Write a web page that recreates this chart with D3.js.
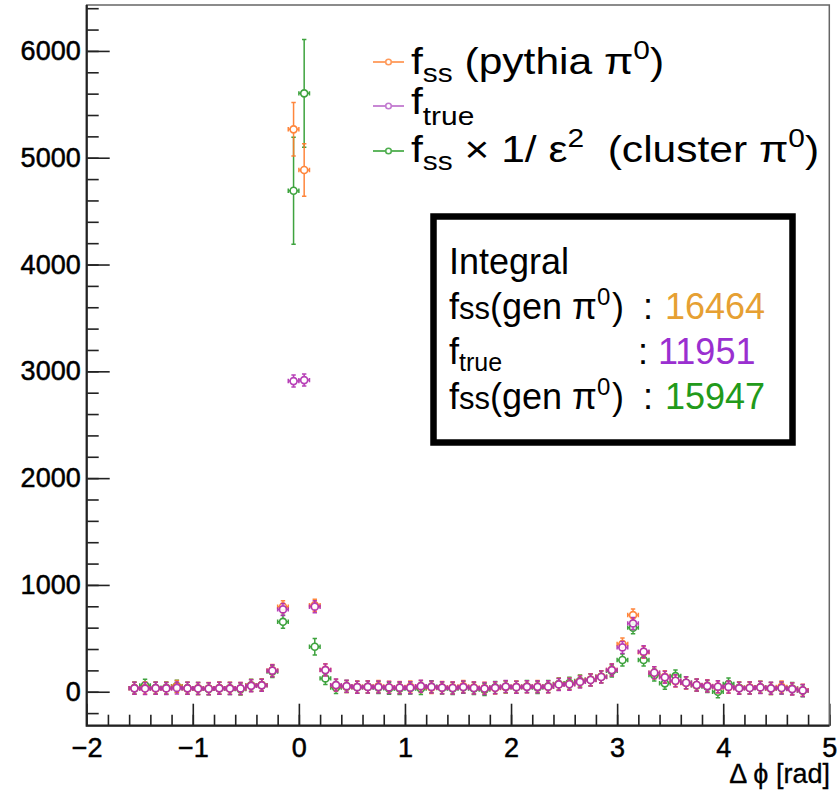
<!DOCTYPE html>
<html>
<head>
<meta charset="utf-8">
<script src="https://cdn.jsdelivr.net/npm/d3@7"></script>
<style>
  body { margin: 0; background: #fff; }
  svg { display: block; font-family: "Liberation Sans", Arial, Helvetica, sans-serif; }
  text { white-space: pre; }
</style>
</head>
<body>
<svg id="chart" width="839" height="793"></svg>
<script>
// Δφ distribution: 64 bins of 0.1 rad starting at -1.6 rad
const binLow = -1.6;
const binWidth = 0.1;

// f_ss (pythia π0)
const fssPythia = [
  33, 34, 32, 33, 50, 32, 31, 30,
  34, 32, 30, 58, 62, 200, 796, 5266,
  4885, 810, 205, 60, 50, 45, 46, 50,
  42, 40, 45, 50, 40, 40, 38, 50,
  38, 32, 35, 46, 45, 47, 48, 46,
  70, 72, 95, 112, 140, 205, 447, 718,
  370, 178, 140, 100, 82, 62, 55, 45,
  42, 35, 38, 42, 30, 45, 28, 14
];
const fssPythiaErr = [
  10, 10, 10, 10, 12, 10, 10, 10,
  10, 10, 10, 14, 14, 22, 40, 250,
  245, 40, 22, 14, 12, 12, 12, 12,
  11, 11, 12, 12, 11, 11, 11, 12,
  11, 10, 10, 12, 12, 12, 12, 12,
  15, 15, 17, 18, 20, 24, 32, 40,
  30, 22, 20, 17, 16, 14, 13, 12,
  12, 10, 11, 11, 10, 11, 9, 6
];

// f_true
const fTrue = [
  32, 30, 33, 31, 36, 32, 30, 28,
  32, 30, 31, 55, 60, 197, 771, 2909,
  2918, 796, 203, 62, 52, 43, 45, 44,
  40, 38, 38, 52, 45, 38, 35, 44,
  35, 30, 37, 48, 43, 46, 46, 47,
  68, 70, 92, 110, 138, 203, 415, 640,
  375, 178, 135, 103, 84, 63, 53, 47,
  45, 32, 35, 40, 32, 35, 25, 12
];
const fTrueErr = [
  8, 8, 8, 8, 8, 8, 8, 8,
  8, 8, 8, 10, 10, 15, 25, 55,
  55, 25, 15, 10, 9, 9, 9, 9,
  8, 8, 8, 9, 9, 8, 8, 9,
  8, 8, 8, 9, 9, 9, 9, 9,
  11, 11, 12, 13, 15, 18, 25, 30,
  24, 17, 15, 13, 12, 10, 9, 9,
  9, 8, 8, 8, 8, 8, 7, 5
];

// f_ss × 1/ε² (cluster π0)
const fssCluster = [
  34, 60, 35, 36, 52, 33, 30, 27,
  33, 31, 25, 60, 62, 190, 655, 4691,
  5603, 421, 125, 40, 48, 42, 45, 40,
  32, 30, 35, 30, 46, 35, 30, 42,
  30, 20, 40, 45, 42, 48, 40, 50,
  72, 80, 100, 112, 140, 195, 297, 600,
  297, 156, 79, 147, 84, 60, 48, 0,
  72, 36, 35, 42, 30, 36, 30, 10
];
const fssClusterErr = [
  14, 16, 14, 14, 15, 14, 14, 14,
  14, 14, 14, 16, 16, 25, 60, 500,
  505, 78, 30, 16, 15, 15, 15, 15,
  14, 14, 14, 14, 15, 14, 14, 15,
  14, 13, 14, 15, 15, 15, 15, 15,
  18, 18, 20, 22, 25, 30, 47, 55,
  47, 28, 20, 25, 20, 18, 16, 14,
  18, 14, 14, 14, 14, 14, 13, 10
];

const xTickValues = [-2, -1, 0, 1, 2, 3, 4, 5];
const yTickValues = [0, 1000, 2000, 3000, 4000, 5000, 6000];

const integralLabels = ["16464", "11951", "15947"];

const colors = { pythia: "#ff7a28", ftrue: "#b02cb0", cluster: "#2a9a2a" };
const legendColors = { pythia: "#ff9a5a", ftrue: "#c27ad0", cluster: "#4fae4f" };

// ---------------------------------------------------------------
const svg = d3.select("#chart");
const frame = { left: 86.7, right: 829.3, top: 5, bottom: 725.7 };

const x = d3.scaleLinear().domain([-2, 5]).range([frame.left, frame.right]);
const y = d3.scaleLinear().domain([-318, 6430]).range([frame.bottom, frame.top]);

// axes with ticks pointing into the frame
const minorX = d3.range(-2, 5.0001, 0.2).map(v => +v.toFixed(2));
const minorY = d3.range(-200, 6430, 200);

const gx = svg.append("g").attr("transform", `translate(0,${frame.bottom})`);
gx.call(d3.axisBottom(x).tickValues(minorX).tickSize(-11).tickFormat(""));
gx.call(g => g.select(".domain").remove());
const gxMaj = svg.append("g").attr("transform", `translate(0,${frame.bottom})`);
gxMaj.call(d3.axisBottom(x).tickValues(xTickValues).tickSize(-22).tickPadding(12).tickFormat(d3.format("d")));
gxMaj.call(g => g.select(".domain").remove());

const gy = svg.append("g").attr("transform", `translate(${frame.left},0)`);
gy.call(d3.axisLeft(y).tickValues(minorY).tickSize(-12).tickFormat(""));
gy.call(g => g.select(".domain").remove());
const gyMaj = svg.append("g").attr("transform", `translate(${frame.left},0)`);
gyMaj.call(d3.axisLeft(y).tickValues(yTickValues).tickSize(-23).tickPadding(6).tickFormat(d3.format("d")));
gyMaj.call(g => g.select(".domain").remove());

svg.selectAll(".tick line").attr("stroke", "#222").attr("stroke-width", 1.6);
svg.selectAll(".tick text")
  .attr("fill", "#000")
  .attr("stroke", "#000")
  .attr("stroke-width", 0.5)
  .attr("font-size", 27)
  .attr("font-family", "'Liberation Sans', Arial, sans-serif");

// frame
svg.append("rect")
  .attr("x", frame.left).attr("y", frame.top)
  .attr("width", frame.right - frame.left).attr("height", frame.bottom - frame.top)
  .attr("fill", "none").attr("stroke", "#666").attr("stroke-width", 1.5);
svg.append("path")
  .attr("d", `M${frame.left},${frame.top}V${frame.bottom}H${frame.right}`)
  .attr("fill", "none").attr("stroke", "#222").attr("stroke-width", 2.2);

// axis title
svg.append("text")
  .attr("x", 830).attr("y", 783)
  .attr("text-anchor", "end")
  .attr("font-size", 27)
  .attr("stroke", "#000").attr("stroke-width", 0.3)
  .text("Δ ϕ [rad]");

// ---------------------------------------------------------------
// histogram points: open circle markers with x/y error bars and end caps
function drawSeries(values, errs, color) {
  const r = 3.5, cap = 2.2;
  const pts = values.map((v, i) => ({ i, v, e: errs[i] }));
  const g = svg.append("g").attr("opacity", 0.9);
  g.selectAll("path.err").data(pts).join("path")
    .attr("class", "err")
    .attr("fill", "none")
    .attr("stroke", color)
    .attr("stroke-width", 1.5)
    .attr("d", d => {
      const x0 = x(binLow + d.i * binWidth);
      const x1 = x(binLow + (d.i + 1) * binWidth);
      const cx = x(binLow + (d.i + 0.5) * binWidth);
      const cy = y(d.v);
      const yHi = y(d.v + d.e), yLo = y(d.v - d.e);
      const p = d3.path();
      p.moveTo(x0, cy); p.lineTo(cx - r, cy);
      p.moveTo(cx + r, cy); p.lineTo(x1, cy);
      p.moveTo(x0, cy - cap); p.lineTo(x0, cy + cap);
      p.moveTo(x1, cy - cap); p.lineTo(x1, cy + cap);
      const top = Math.min(yHi, cy - r - 2.5), bot = Math.max(yLo, cy + r + 2.5);
      p.moveTo(cx, top); p.lineTo(cx, cy - r);
      p.moveTo(cx, cy + r); p.lineTo(cx, bot);
      p.moveTo(cx - cap, top); p.lineTo(cx + cap, top);
      p.moveTo(cx - cap, bot); p.lineTo(cx + cap, bot);
      return p.toString();
    });
  g.selectAll("circle").data(pts).join("circle")
    .attr("cx", d => x(binLow + (d.i + 0.5) * binWidth))
    .attr("cy", d => y(d.v))
    .attr("r", r)
    .attr("fill", "#fff")
    .attr("stroke", color)
    .attr("stroke-width", 1.7);
}

drawSeries(fssCluster, fssClusterErr, colors.cluster);
drawSeries(fssPythia, fssPythiaErr, colors.pythia);
drawSeries(fTrue, fTrueErr, colors.ftrue);

// ---------------------------------------------------------------
// legend
const legendItems = [
  { key: "pythia", y: 62 },
  { key: "ftrue", y: 106 },
  { key: "cluster", y: 151 }
];
const lg = svg.append("g");
legendItems.forEach(it => {
  lg.append("line")
    .attr("x1", 373).attr("x2", 404).attr("y1", it.y).attr("y2", it.y)
    .attr("stroke", legendColors[it.key]).attr("stroke-width", 1.8);
  lg.append("circle")
    .attr("cx", 388.5).attr("cy", it.y).attr("r", 2.8)
    .attr("fill", "#fff").attr("stroke", legendColors[it.key]).attr("stroke-width", 1.6);
});

function addRuns(t, runs) {
  runs.forEach(r => {
    const ts = t.append("tspan").attr("font-size", r.s).text(r.t);
    if (r.dy) ts.attr("dy", r.dy);
    if (r.fill) ts.attr("fill", r.fill);
    if (r.x !== undefined) ts.attr("x", r.x);
  });
}

// legend labels are set slightly wide
const big = 37, small = 26;
const legendText = lg.append("g").attr("transform", "translate(411,0) scale(1.15,1)");
addRuns(legendText.append("text").attr("x", 0).attr("y", 74), [
  { t: "f", s: big }, { t: "ss", s: small, dy: 8 },
  { t: " (pythia π", s: big, dy: -8 }, { t: "0", s: small, dy: -15 }, { t: ")", s: big, dy: 15 }
]);
addRuns(legendText.append("text").attr("x", 0).attr("y", 114), [
  { t: "f", s: big }, { t: "true", s: small, dy: 11 }
]);
addRuns(legendText.append("text").attr("x", 0).attr("y", 162), [
  { t: "f", s: big }, { t: "ss", s: small, dy: 8 },
  { t: " × 1/ ε", s: big, dy: -8 }, { t: "2", s: small, dy: -15 },
  { t: "  (cluster π", s: big, dy: 15 }, { t: "0", s: small, dy: -15 }, { t: ")", s: big, dy: 15 }
]);

// ---------------------------------------------------------------
// integral box
const box = svg.append("g");
box.append("rect")
  .attr("x", 433.5).attr("y", 216.5).attr("width", 359).attr("height", 226)
  .attr("fill", "#fff").attr("stroke", "#000").attr("stroke-width", 6.5);

const bf = 36, bs = 31;
addRuns(box.append("text").attr("x", 449).attr("y", 274), [{ t: "Integral", s: bf }]);
addRuns(box.append("text").attr("x", 449).attr("y", 319), [
  { t: "f", s: bf }, { t: "ss", s: bs }, { t: "(gen π", s: bf },
  { t: "0", s: 24, dy: -14, x: 597 }, { t: ")", s: bf, dy: 14, x: 612 },
  { t: ":", s: bf, x: 643 },
  { t: integralLabels[0], s: bf, fill: "#e6a033", x: 665 }
]);
addRuns(box.append("text").attr("x", 449).attr("y", 364), [
  { t: "f", s: bf }, { t: "true", s: 25, dy: 7 },
  { t: ":", s: bf, dy: -7, x: 638 },
  { t: integralLabels[1], s: bf, fill: "#9a2fd0", x: 658 }
]);
addRuns(box.append("text").attr("x", 449).attr("y", 409), [
  { t: "f", s: bf }, { t: "ss", s: bs }, { t: "(gen π", s: bf },
  { t: "0", s: 24, dy: -14, x: 597 }, { t: ")", s: bf, dy: 14, x: 612 },
  { t: ":", s: bf, x: 643 },
  { t: integralLabels[2], s: bf, fill: "#229a1a", x: 665 }
]);
</script>
</body>
</html>
